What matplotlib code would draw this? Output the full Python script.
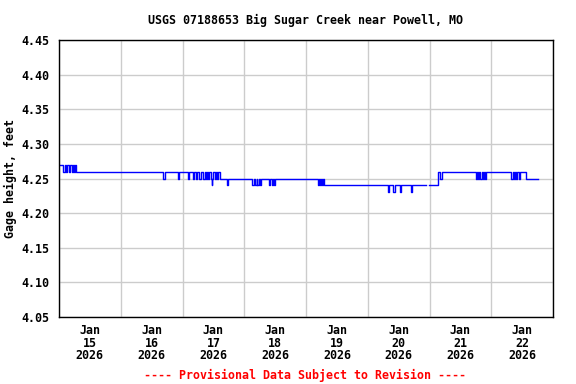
import matplotlib
matplotlib.use("Agg")
import matplotlib.pyplot as plt
import matplotlib.dates as mdates
import numpy as np
import pandas as pd

# Change points: hours after 2026-01-15 00:00 and gage height (ft)
hours = [0.0, 1.55, 2.14, 2.72, 3.30, 3.89, 4.28, 4.86, 5.25, 5.83, 6.22, 6.53,
         40.6, 41.2, 46.1, 46.6, 50.1, 50.7, 51.9, 52.5, 53.2, 53.8, 54.6, 55.2,
         56.0, 56.6, 57.1, 57.5, 57.9, 58.3, 59.1, 59.3, 59.6, 59.9, 60.6, 61.0,
         61.4, 61.8, 62.4, 65.4, 65.8,
         75.2, 75.8, 76.2, 76.8, 77.1, 77.7, 78.1, 78.7,
         81.8, 82.2, 82.8, 83.2, 83.5, 83.8,
         100.7, 101.1, 101.4, 101.8, 102.4, 102.7, 103.0,
         127.7, 128.2, 129.9, 130.5, 132.5, 133.1, 136.8, 137.3,
         142.5, 143.8, 147.4, 147.9, 148.7,
         162.1, 162.5, 162.9, 163.4, 163.8, 164.4, 164.8, 165.2, 165.6, 166.0,
         175.7, 176.3, 176.7, 177.2, 177.6, 178.2, 178.6, 179.2, 181.5, 186.2]
heights = [4.27, 4.26, 4.27, 4.26, 4.27, 4.26, 4.27, 4.26, 4.27, 4.26, 4.27, 4.26,
           4.25, 4.26, 4.25, 4.26, 4.25, 4.26, 4.25, 4.26, 4.25, 4.26, 4.25, 4.26,
           4.25, 4.26, 4.25, 4.26, 4.25, 4.26, 4.25, 4.24, 4.25, 4.26, 4.25, 4.26,
           4.25, 4.26, 4.25, 4.24, 4.25,
           4.24, 4.25, 4.24, 4.25, 4.24, 4.25, 4.24, 4.25,
           4.24, 4.25, 4.24, 4.25, 4.24, 4.25,
           4.24, 4.25, 4.24, 4.25, 4.24, 4.25, 4.24,
           4.23, 4.24, 4.23, 4.24, 4.23, 4.24, 4.23, 4.24,
           np.nan, 4.24, 4.26, 4.25, 4.26,
           4.25, 4.26, 4.25, 4.26, 4.25, 4.26, 4.25, 4.26, 4.25, 4.26,
           4.25, 4.26, 4.25, 4.26, 4.25, 4.26, 4.25, 4.26, 4.25, 4.25]

start = pd.Timestamp("2026-01-15 00:00")
end = pd.Timestamp("2026-01-23 00:00")
times = start + pd.to_timedelta(hours, unit="h")

title = "USGS 07188653 Big Sugar Creek near Powell, MO"
ylabel = "Gage height, feet"
footer = "---- Provisional Data Subject to Revision ----"
yticks = [4.05, 4.10, 4.15, 4.20, 4.25, 4.30, 4.35, 4.40, 4.45]

mono = ["DejaVu Sans Mono"]
fs = 8.4
fig = plt.figure(figsize=(5.76, 3.84), dpi=100)
ax = fig.add_axes([59/576, 1-317/384, (553-59)/576, (317-40)/384])

ax.plot(times, heights, color="#0000ff", linewidth=1.0, drawstyle="steps-post")

ax.set_xlim(start, end)
ax.set_ylim(4.05, 4.45)
ax.set_yticks(yticks)
ax.set_yticklabels([f"{v:.2f}" for v in yticks], family=mono, fontweight="bold", fontsize=fs)

days = pd.date_range(start, end, freq="D")
noons = days[:-1] + pd.Timedelta(hours=12)
ax.set_xticks(days)
ax.set_xticklabels([])
ax.set_xticks(noons, minor=True)
ax.set_xticklabels([f"Jan\n{d.day}\n{d.year}" for d in noons], minor=True,
                   family=mono, fontweight="bold", fontsize=fs, linespacing=0.97)
ax.tick_params(axis="both", which="both", length=0)
ax.tick_params(axis="x", which="minor", pad=5)
ax.tick_params(axis="y", pad=7)

ax.grid(True, which="major", color="#cccccc", linewidth=1.0)
ax.set_axisbelow(True)
for s in ax.spines.values():
    s.set_color("black")
    s.set_linewidth(1.0)

ax.set_ylabel(ylabel, family=mono, fontweight="bold", fontsize=fs, labelpad=3)
fig.text(305/576, 1-20/384, title, ha="center", va="center", family=mono,
         fontweight="bold", fontsize=fs)
fig.text(305/576, 1-375/384, footer, ha="center", va="center", family=mono,
         fontweight="bold", fontsize=fs, color="#ff0000")

fig.savefig("out.png", dpi=100)
